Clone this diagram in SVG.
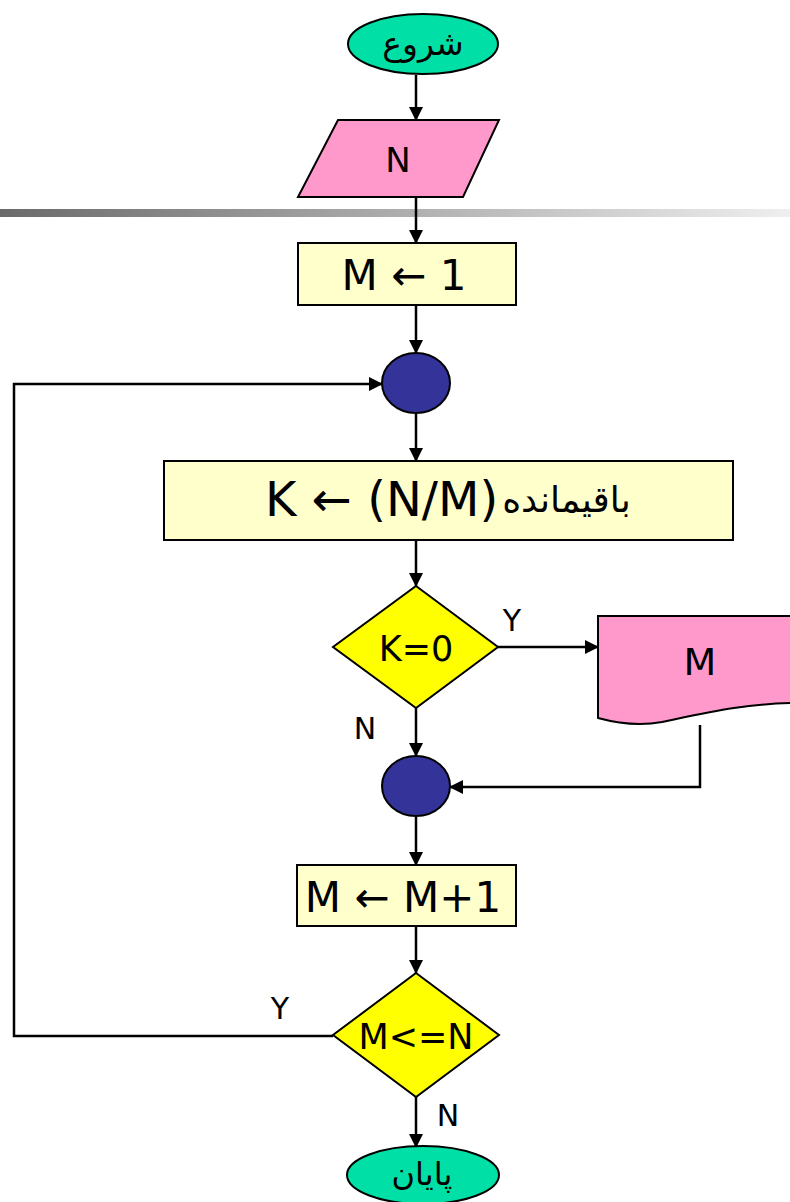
<svg xmlns="http://www.w3.org/2000/svg" width="790" height="1202" viewBox="0 0 790 1202">
<defs>
<linearGradient id="bar" x1="0" y1="0" x2="1" y2="0">
<stop offset="0" stop-color="#6a6a6a"/>
<stop offset="1" stop-color="#efefef"/>
</linearGradient>
<marker id="ah" markerUnits="userSpaceOnUse" markerWidth="14" markerHeight="14" refX="13" refY="7" orient="auto">
<path d="M0,0 L14,7 L0,14 Z" fill="#000"/>
</marker>
<style>
.term{fill:#00E0A6;stroke:#000;stroke-width:2}
.io{fill:#FF99CC;stroke:#000;stroke-width:2}
.proc{fill:#FFFFCC;stroke:#000;stroke-width:2}
.dec{fill:#FFFF00;stroke:#000;stroke-width:2}
.conn{fill:#333399;stroke:#000;stroke-width:2}
.ln{fill:none;stroke:#000;stroke-width:2.5}
.t{font-family:"DejaVu Sans",sans-serif;fill:#000;text-anchor:middle;dominant-baseline:central}
</style>
</defs>
<rect x="0" y="209" width="790" height="8" fill="url(#bar)"/>
<g id="connectors">
<line class="ln" x1="416" y1="75" x2="416" y2="120" marker-end="url(#ah)"/>
<line class="ln" x1="416" y1="197" x2="416" y2="243" marker-end="url(#ah)"/>
<line class="ln" x1="416" y1="305" x2="416" y2="353" marker-end="url(#ah)"/>
<line class="ln" x1="416" y1="413" x2="416" y2="461" marker-end="url(#ah)"/>
<line class="ln" x1="416" y1="540" x2="416" y2="586" marker-end="url(#ah)"/>
<line class="ln" x1="498" y1="647" x2="598" y2="647" marker-end="url(#ah)"/>
<line class="ln" x1="416" y1="708" x2="416" y2="756" marker-end="url(#ah)"/>
<polyline class="ln" points="700,725 700,787 450,787" marker-end="url(#ah)"/>
<line class="ln" x1="416" y1="817" x2="416" y2="865" marker-end="url(#ah)"/>
<line class="ln" x1="416" y1="926" x2="416" y2="973" marker-end="url(#ah)"/>
<polyline class="ln" points="333,1036 14,1036 14,384 382,384" marker-end="url(#ah)"/>
<line class="ln" x1="416" y1="1097" x2="416" y2="1147" marker-end="url(#ah)"/>
<text class="t" x="512" y="620" font-size="30">Y</text>
<text class="t" x="365" y="728" font-size="30">N</text>
<text class="t" x="280" y="1008" font-size="30">Y</text>
<text class="t" x="448" y="1115" font-size="30">N</text>
</g>
<g id="start">
<ellipse class="term" cx="423" cy="44" rx="75" ry="30"/>
<text class="t" x="423" y="43" font-size="33">شروع</text>
</g>
<g id="inputN">
<polygon class="io" points="338,120 499,120 463,197 298,197"/>
<text class="t" x="398" y="160" font-size="34">N</text>
</g>
<g id="initM">
<rect class="proc" x="298" y="243" width="218" height="62"/>
<text class="t" x="404" y="275" font-size="42">M ← 1</text>
</g>
<g id="join1">
<ellipse class="conn" cx="416" cy="383" rx="34" ry="30"/>
</g>
<g id="computeK">
<rect class="proc" x="164" y="461" width="569" height="79"/>
<text class="t" x="265" y="499" font-size="48" direction="ltr" text-anchor="start" style="text-anchor:start"><tspan>K ← (N/M)</tspan><tspan font-size="36" dx="4">باقيمانده</tspan></text>
</g>
<g id="testK">
<polygon class="dec" points="416,586 498,647 416,708 333,647"/>
<text class="t" x="416" y="649" font-size="35">K=0</text>
</g>
<g id="outputM">
<path class="io" d="M800,616 L598,616 L598,718 C620,724 640,726 662,722 C705,713 745,703 800,703"/>
<text class="t" x="700" y="662" font-size="38">M</text>
</g>
<g id="join2">
<ellipse class="conn" cx="416" cy="786" rx="34" ry="30"/>
</g>
<g id="incM">
<rect class="proc" x="297" y="865" width="219" height="61"/>
<text class="t" x="403" y="897" font-size="42">M ← M+1</text>
</g>
<g id="testMN">
<polygon class="dec" points="416,973 499,1035 416,1097 333,1035"/>
<text class="t" x="416" y="1037" font-size="35">M&lt;=N</text>
</g>
<g id="end">
<ellipse class="term" cx="423" cy="1175" rx="76" ry="29"/>
<text class="t" x="422" y="1174" font-size="32">پايان</text>
</g>
</svg>
